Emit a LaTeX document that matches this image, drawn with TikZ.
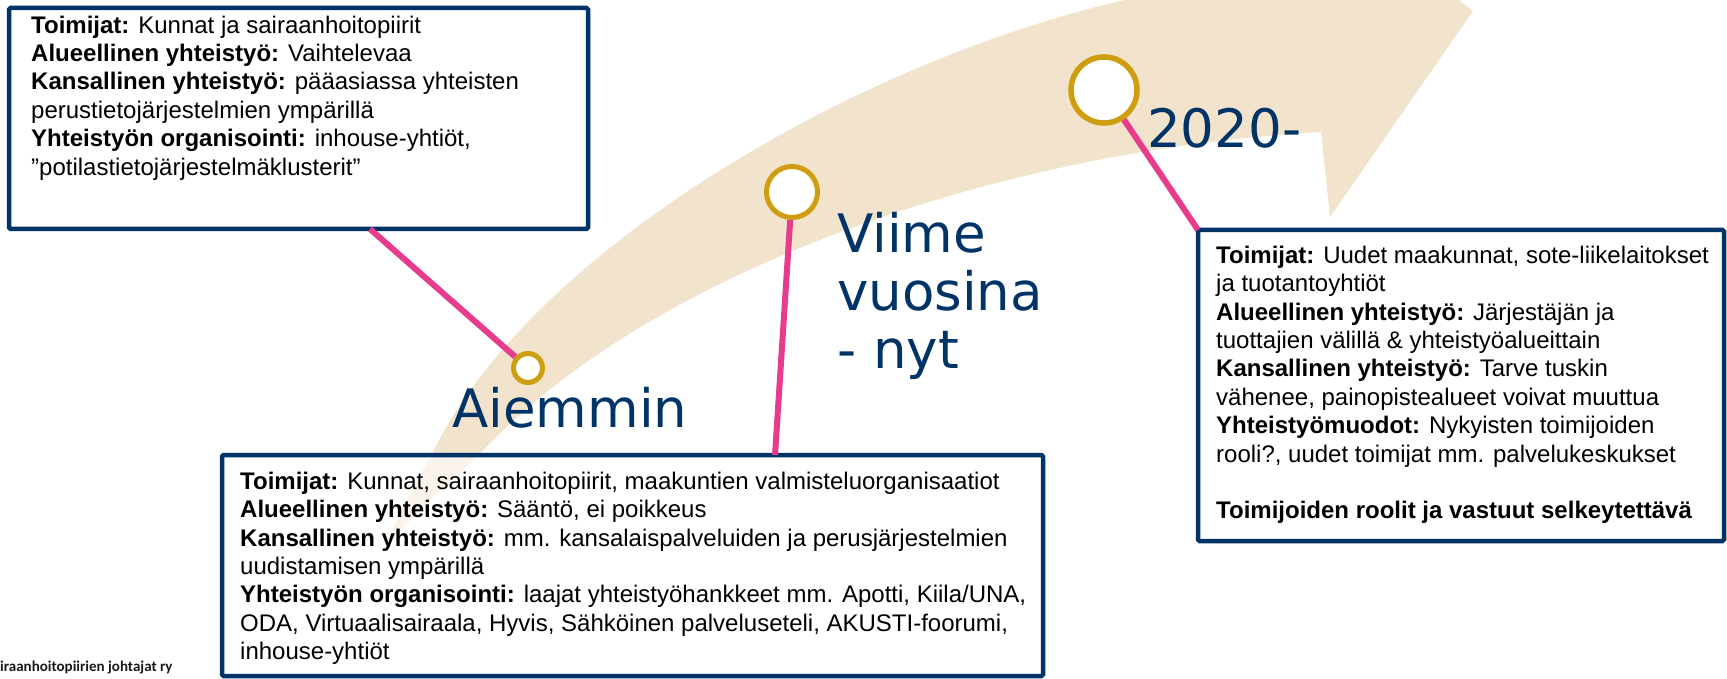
\documentclass[tikz,border=0pt]{standalone}
\usepackage{fontspec}
\setmainfont{Liberation Sans}
\newfontfamily\labelfont{DejaVu Sans}
\newfontfamily\footfont{Carlito}
\usetikzlibrary{calc}
\definecolor{navy}{RGB}{0,51,102}
\definecolor{pinkline}{RGB}{231,60,140}
\definecolor{goldring}{RGB}{206,158,16}
\definecolor{beige}{RGB}{242,227,205}
\begin{document}
\begin{tikzpicture}[x=1pt,y=-1pt,
  infobox/.style={draw=navy, line width=4.5pt, fill=white, fill opacity=0.6,
    rounded corners=1.5pt, inner sep=0pt, outer sep=0pt, anchor=north west},
  boxtext/.style={anchor=north west, inner sep=0pt, align=left, text=black,
    font=\fontsize{24}{28.4}\selectfont},
  ring/.style={circle, draw=goldring, fill=white, inner sep=0pt},
  leader/.style={draw=pinkline, line width=6pt},
  era/.style={inner sep=0pt, text=navy, font=\labelfont\fontsize{53}{58}\selectfont}]
\useasboundingbox (0,0) rectangle (1727,679);

% curved arrow band
\begin{scope}
\clip (0,0) rectangle (1727,679);
\fill[beige] (383,548) -- (407,500) -- (432,454)
  .. controls (530,250) and (860,60) .. (1125,0)
  -- (1290,-50) -- (1276,-143) -- (1473,11) -- (1330,217) -- (1321,132)
  .. controls (1000,150) and (650,270) .. (480,454)
  -- (430,500) -- cycle;
\end{scope}

% boxes
\node[infobox, minimum width=579pt, minimum height=221pt] (b1) at (9,8) {};
\node[infobox, minimum width=821pt, minimum height=221pt] (b2) at (222,455) {};
\node[infobox, minimum width=526pt, minimum height=311pt] (b3) at (1198,230) {};

% rings
\node[ring, line width=5pt, minimum size=29pt] (c1) at (528,368) {};
\node[ring, line width=5pt, minimum size=51pt] (c2) at (792,192) {};
\node[ring, line width=5.5pt, minimum size=66pt] (c3) at (1104,90) {};

% leaders
\draw[leader] ($(b1.south west)!0.6235!(b1.south east)$) -- (c1);
\draw[leader] (c2) -- ($(b2.north west)!0.6736!(b2.north east)$);
\draw[leader] (c3) -- (b3.north west);

% era labels
\node[era, anchor=base west] (e1) at (452,427) {Aiemmin};
\node[era, anchor=north west, align=left] (e2) at (837,210) {\rule{0pt}{42pt}Viime\\vuosina\\- nyt};
\node[era, anchor=base west] (e3) at (1147,148) {2020-};

% box texts
\node[boxtext] (t1) at (31,15) {\rule{0pt}{18pt}\textbf{Toimijat:} Kunnat ja sairaanhoitopiirit\\
\textbf{Alueellinen yhteistyö:} Vaihtelevaa\\
\textbf{Kansallinen yhteistyö:} pääasiassa yhteisten\\
perustietojärjestelmien ympärillä\\
\textbf{Yhteistyön organisointi:} inhouse-yhtiöt,\\
”potilastietojärjestelmäklusterit”};

\node[boxtext] (t2) at (240,471) {\rule{0pt}{18pt}\textbf{Toimijat:} Kunnat, sairaanhoitopiirit, maakuntien valmisteluorganisaatiot\\
\textbf{Alueellinen yhteistyö:} Sääntö, ei poikkeus\\
\textbf{Kansallinen yhteistyö:} mm. kansalaispalveluiden ja perusjärjestelmien\\
uudistamisen ympärillä\\
\textbf{Yhteistyön organisointi:} laajat yhteistyöhankkeet mm. Apotti, Kiila/UNA,\\
ODA, Virtuaalisairaala, Hyvis, Sähköinen palveluseteli, AKUSTI-foorumi,\\
inhouse-yhtiöt};

\node[boxtext] (t3) at (1216,245) {\rule{0pt}{18pt}\textbf{Toimijat:} Uudet maakunnat, sote-liikelaitokset\\
ja tuotantoyhtiöt\\
\textbf{Alueellinen yhteistyö:} Järjestäjän ja\\
tuottajien välillä \& yhteistyöalueittain\\
\textbf{Kansallinen yhteistyö:} Tarve tuskin\\
vähenee, painopistealueet voivat muuttua\\
\textbf{Yhteistyömuodot:} Nykyisten toimijoiden\\
rooli?, uudet toimijat mm. palvelukeskukset\\[28.4pt]
\textbf{Toimijoiden roolit ja vastuut selkeytettävä}};

% footer
\node[anchor=base west, inner sep=0pt, text=black!90,
  font=\footfont\bfseries\fontsize{15}{18}\selectfont] (ft) at (0,671) {iraanhoitopiirien johtajat ry};
\end{tikzpicture}
\end{document}
